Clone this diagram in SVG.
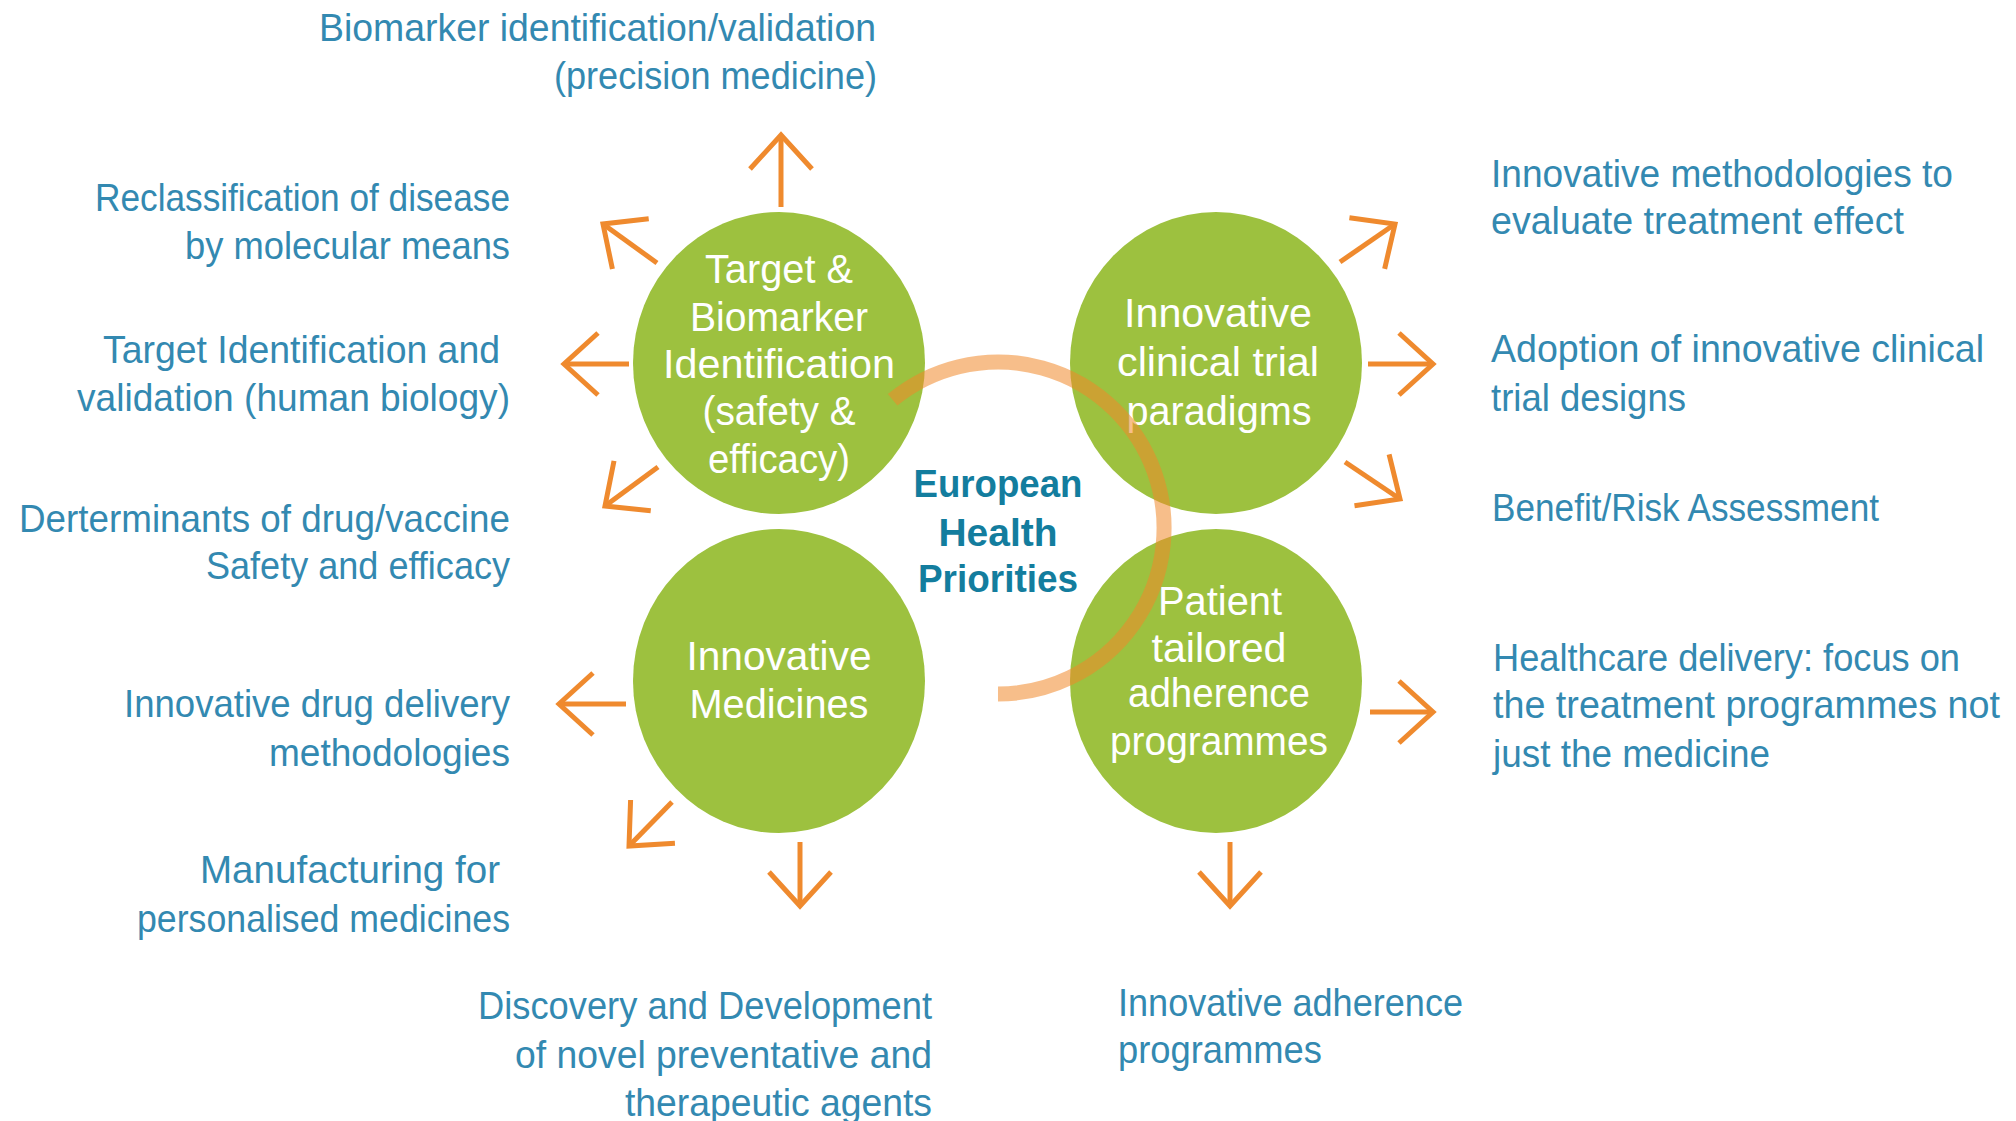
<svg xmlns="http://www.w3.org/2000/svg" width="2016" height="1121" viewBox="0 0 2016 1121">
<style>
.bg{fill:#ffffff}
.node{fill:#9DC13F}
.nt{font-family:"Liberation Sans",Arial,sans-serif;font-size:40px;fill:#ffffff;text-anchor:middle}
.lab{font-family:"Liberation Sans",Arial,sans-serif;font-size:39px;fill:#3389B1}
.end{text-anchor:end}
.ctr{font-family:"Liberation Sans",Arial,sans-serif;font-size:39px;font-weight:bold;fill:#137D9E;text-anchor:middle}
.arr{fill:none;stroke:#EF8A2E;stroke-width:5;marker-end:url(#ah)}
.ring{fill:none;stroke:#F0892A;stroke-opacity:0.55;stroke-width:15}
</style>
<defs>
<marker id="ah" markerUnits="userSpaceOnUse" viewBox="-40 -36 44 72" markerWidth="44" markerHeight="72" refX="0" refY="0" orient="auto" overflow="visible">
<path d="M -34 -31 L 0 0 L -34 31" fill="none" stroke="#EF8A2E" stroke-width="5" stroke-linejoin="miter"/>
</marker>
</defs>
<rect class="bg" x="0" y="0" width="2016" height="1121"/>

<g id="connectors">
<path class="arr" d="M781 207 L781 135"/>
<path class="arr" d="M657 263 L603 224"/>
<path class="arr" d="M629 364 L564 364"/>
<path class="arr" d="M658 467 L605 506"/>
<path class="arr" d="M1340 262 L1395 224"/>
<path class="arr" d="M1368 364 L1433 364"/>
<path class="arr" d="M1345 462 L1400 499"/>
<path class="arr" d="M626 704 L559 704"/>
<path class="arr" d="M672 802 L629 846"/>
<path class="arr" d="M800 842 L800 906"/>
<path class="arr" d="M1370 712 L1433 712"/>
<path class="arr" d="M1230 842 L1230 906"/>
</g>

<g id="node-target-biomarker">
<ellipse class="node" cx="779" cy="363" rx="146" ry="151"/>
<text class="nt" x="779" y="283" textLength="148" lengthAdjust="spacingAndGlyphs">Target &amp;</text>
<text class="nt" x="779" y="331" textLength="178" lengthAdjust="spacingAndGlyphs">Biomarker</text>
<text class="nt" x="779" y="378" textLength="232" lengthAdjust="spacingAndGlyphs">Identification</text>
<text class="nt" x="779" y="425" textLength="153" lengthAdjust="spacingAndGlyphs">(safety &amp;</text>
<text class="nt" x="779" y="473" textLength="142" lengthAdjust="spacingAndGlyphs">efficacy)</text>
</g>

<g id="node-clinical-trial">
<ellipse class="node" cx="1216" cy="363" rx="146" ry="151"/>
<text class="nt" x="1218" y="327" textLength="188" lengthAdjust="spacingAndGlyphs">Innovative</text>
<text class="nt" x="1218" y="376" textLength="202" lengthAdjust="spacingAndGlyphs">clinical trial</text>
<text class="nt" x="1219" y="425" textLength="185" lengthAdjust="spacingAndGlyphs">paradigms</text>
</g>

<g id="node-innovative-medicines">
<ellipse class="node" cx="779" cy="681" rx="146" ry="152"/>
<text class="nt" x="779" y="670" textLength="185" lengthAdjust="spacingAndGlyphs">Innovative</text>
<text class="nt" x="779" y="718" textLength="179" lengthAdjust="spacingAndGlyphs">Medicines</text>
</g>

<g id="node-patient-adherence">
<ellipse class="node" cx="1216" cy="681" rx="146" ry="152"/>
<text class="nt" x="1220" y="615" textLength="124" lengthAdjust="spacingAndGlyphs">Patient</text>
<text class="nt" x="1219" y="662" textLength="135" lengthAdjust="spacingAndGlyphs">tailored</text>
<text class="nt" x="1219" y="707" textLength="182" lengthAdjust="spacingAndGlyphs">adherence</text>
<text class="nt" x="1219" y="755" textLength="218" lengthAdjust="spacingAndGlyphs">programmes</text>
</g>

<g id="ring">
<path class="ring" d="M892.6 399.8 A166 166 0 1 1 998 694"/>
</g>

<g id="center">
<text class="ctr" x="998" y="497" textLength="169" lengthAdjust="spacingAndGlyphs">European</text>
<text class="ctr" x="998" y="546" textLength="119" lengthAdjust="spacingAndGlyphs">Health</text>
<text class="ctr" x="998" y="592" textLength="160" lengthAdjust="spacingAndGlyphs">Priorities</text>
</g>

<g id="labels">
<text class="lab end" x="876" y="41" textLength="557" lengthAdjust="spacingAndGlyphs">Biomarker identification/validation</text>
<text class="lab end" x="877" y="89" textLength="323" lengthAdjust="spacingAndGlyphs">(precision medicine)</text>

<text class="lab end" x="510" y="211" textLength="415" lengthAdjust="spacingAndGlyphs">Reclassification of disease</text>
<text class="lab end" x="510" y="259" textLength="325" lengthAdjust="spacingAndGlyphs">by molecular means</text>
<text class="lab end" x="500" y="363" textLength="397" lengthAdjust="spacingAndGlyphs">Target Identification and</text>
<text class="lab end" x="510" y="411" textLength="433" lengthAdjust="spacingAndGlyphs">validation (human biology)</text>
<text class="lab end" x="510" y="532" textLength="491" lengthAdjust="spacingAndGlyphs">Derterminants of drug/vaccine</text>
<text class="lab end" x="510" y="579" textLength="304" lengthAdjust="spacingAndGlyphs">Safety and efficacy</text>
<text class="lab end" x="510" y="717" textLength="386" lengthAdjust="spacingAndGlyphs">Innovative drug delivery</text>
<text class="lab end" x="510" y="766" textLength="241" lengthAdjust="spacingAndGlyphs">methodologies</text>
<text class="lab end" x="500" y="883" textLength="300" lengthAdjust="spacingAndGlyphs">Manufacturing for</text>
<text class="lab end" x="510" y="932" textLength="373" lengthAdjust="spacingAndGlyphs">personalised medicines</text>

<text class="lab end" x="932" y="1019" textLength="454" lengthAdjust="spacingAndGlyphs">Discovery and Development</text>
<text class="lab end" x="932" y="1068" textLength="417" lengthAdjust="spacingAndGlyphs">of novel preventative and</text>
<text class="lab end" x="932" y="1116" textLength="307" lengthAdjust="spacingAndGlyphs">therapeutic agents</text>

<text class="lab" x="1118" y="1016" textLength="345" lengthAdjust="spacingAndGlyphs">Innovative adherence</text>
<text class="lab" x="1118" y="1063" textLength="204" lengthAdjust="spacingAndGlyphs">programmes</text>

<text class="lab" x="1491" y="187" textLength="462" lengthAdjust="spacingAndGlyphs">Innovative methodologies to</text>
<text class="lab" x="1491" y="234" textLength="413" lengthAdjust="spacingAndGlyphs">evaluate treatment effect</text>
<text class="lab" x="1491" y="362" textLength="493" lengthAdjust="spacingAndGlyphs">Adoption of innovative clinical</text>
<text class="lab" x="1491" y="411" textLength="195" lengthAdjust="spacingAndGlyphs">trial designs</text>
<text class="lab" x="1492" y="521" textLength="387" lengthAdjust="spacingAndGlyphs">Benefit/Risk Assessment</text>
<text class="lab" x="1493" y="671" textLength="467" lengthAdjust="spacingAndGlyphs">Healthcare delivery: focus on</text>
<text class="lab" x="1493" y="718" textLength="507" lengthAdjust="spacingAndGlyphs">the treatment programmes not</text>
<text class="lab" x="1493" y="767" textLength="277" lengthAdjust="spacingAndGlyphs">just the medicine</text>
</g>
</svg>
